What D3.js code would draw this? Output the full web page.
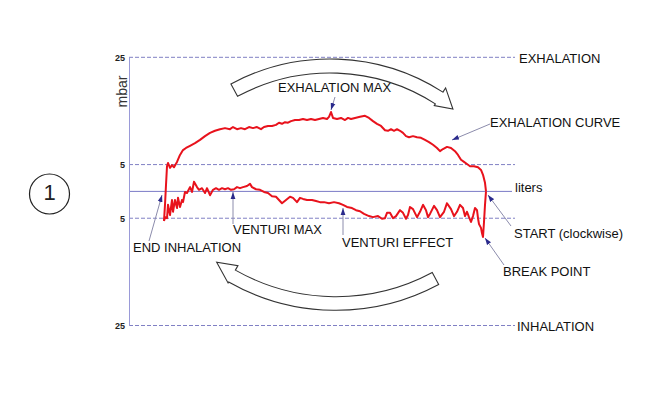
<!DOCTYPE html>
<html><head><meta charset="utf-8">
<script src="https://cdn.jsdelivr.net/npm/d3@7"></script>
<style>body{margin:0;background:#fff}svg{display:block}text{font-family:"Liberation Sans",Arial,Helvetica,sans-serif}</style>
</head><body><svg id="c" width="656" height="408"></svg>
<script>
// ---- data (sample index, pressure in mbar) ----
const exhT = [35,36,37,38,39,41,43,45,48,51,54,57,61,66,71,76,81,86,91,96,101,104,108,112,116,120,124,128,132,135,139,143,147,150,153,156,159,162,166,170,174,178,182,186,190,194,198,200,202,204,208,212,216,219,222,226,231,236,240,244,248,252,256,259,262,265,268,271,274,277,280,284,288,292,296,300,304,308,311,314,318,322,326,329,332,335,338,341,345,349,352,354,356,357];
const exhP = [-5.5,-2.5,1.2,4.7,5.3,4.4,4.9,4.5,5.5,6.8,7.7,8.1,8.5,9.0,9.6,10.3,10.9,11.3,11.6,11.8,11.6,12.0,11.6,11.8,11.6,12.0,11.8,12.0,11.6,12.0,12.2,12.2,12.4,12.8,12.6,12.9,12.8,13.1,13.3,13.3,13.5,13.3,13.5,13.3,13.5,13.7,13.5,13.9,14.8,13.7,13.5,13.7,13.3,13.7,13.5,13.7,13.9,14.1,13.7,13.1,12.6,12.2,11.4,11.3,11.6,11.3,11.6,11.3,10.9,10.3,10.1,10.3,10.1,10.0,9.6,9.2,8.7,8.1,7.5,7.9,8.3,8.1,7.5,6.8,5.9,5.5,5.1,4.7,4.7,4.5,4.0,3.1,1.6,0];
const venT = [357,356,355,354,353,352,350,349,348,346,344,342,340,338,336,334,331,328,325,322,318,315,311,308,305,301,299,297,294,291,288,284,281,279,277,274,271,267,264,261,258,256,253,249,244,240,235,231,227,223,218,214,210,205,200,195,191,187,183,178,174,171,168,164,161,157,153,150,147,143,139,135,131,127,123,121,118,114,111,108,105,102,99,96,93,90,87,84,81,78,76,73,70,68,65,63,61,58,56,54,53,51,49,48,46,44,43,41,39,38,36,35];
const venP = [0,-2.5,-5.7,-8.5,-7.8,-6.8,-6.1,-5.0,-3.5,-3.1,-4.6,-5.7,-4.8,-3.8,-4.6,-3.1,-2.5,-3.8,-4.6,-3.3,-2.2,-3.8,-4.8,-3.5,-2.7,-4.2,-4.8,-3.5,-2.5,-3.8,-4.8,-3.3,-2.9,-4.4,-5.1,-4.0,-3.5,-4.6,-5.0,-4.0,-4.0,-5.0,-5.1,-4.6,-4.8,-4.6,-4.2,-3.7,-3.5,-3.1,-2.9,-2.5,-2.2,-2.0,-2.2,-2.0,-2.0,-1.8,-1.6,-1.6,-1.4,-1.2,-2.0,-1.2,-1.0,-1.6,-2.2,-1.6,-1.0,-0.9,-0.3,-0.1,0.3,0.4,0.8,1.4,1.0,0.8,0.6,0.8,0.4,0.3,0.6,0.4,0.6,0.3,0.6,0.3,-0.7,0.6,-0.3,0.6,0.3,0.8,1.8,-0.1,0.8,-0.3,-0.1,-2.0,-1.6,-2.9,-1.2,-3.1,-1.6,-3.8,-1.6,-4.4,-2.5,-5.0,-4.8,-5.5];
const yTicks = [25, 5, -5, -25];
const levelLabels = ["EXHALATION", "liters", "INHALATION"];
const levelValues = [25, 0, -25];
const noteLabels = ["EXHALATION MAX","EXHALATION CURVE","VENTURI MAX","VENTURI EFFECT","END INHALATION","START (clockwise)","BREAK POINT"];

// ---- layout ----
const svg = d3.select("#c");
const x = d3.scaleLinear().domain([0, 386]).range([129, 515]);
const y = d3.scaleLinear().domain([-25, 25]).range([325.5, 57.3]);

const noteLayout = [
  {tx:278, ty:92,  a:[335,97],  b:[331,110]},
  {tx:490, ty:127, a:[490,124], b:[452,140]},
  {tx:233, ty:234, a:[233,224], b:[233,192]},
  {tx:342, ty:247, a:[343,235], b:[343,208]},
  {tx:133, ty:252, a:[149,241], b:[162,195]},
  {tx:514, ty:238, a:[511,226], b:[488,195]},
  {tx:503, ty:276, a:[504,265], b:[485,238]}
];

const defs = svg.append("defs");
defs.append("marker").attr("id","ah").attr("markerUnits","userSpaceOnUse")
  .attr("markerWidth",7).attr("markerHeight",6).attr("refX",7).attr("refY",3).attr("orient","auto")
  .append("path").attr("d","M0,0.6L7,3L0,5.4Z").attr("fill","#2a2a8c");

// grid lines
svg.append("g").selectAll("line").data(yTicks).join("line")
  .attr("x1", x(0)).attr("x2", x(386)).attr("y1", d => y(d)).attr("y2", d => y(d))
  .attr("stroke", "#8080c4").attr("stroke-width", 1).attr("stroke-dasharray", "4,2");
svg.append("line").attr("x1", x(0)).attr("x2", x(383)).attr("y1", y(0)).attr("y2", y(0))
  .attr("stroke", "#7a7ac6").attr("stroke-width", 1);

// axis
const yAxis = d3.axisLeft(y).tickValues(yTicks).tickSize(0).tickPadding(4).tickFormat(d => Math.abs(d));
const ga = svg.append("g").attr("transform", `translate(${x(0)},0)`).call(yAxis);
ga.select(".domain").attr("stroke", "#9a9ad8");
ga.selectAll("text").attr("font-size", 9).attr("font-weight", "bold").attr("fill", "#222")
  .style("font-family", '"Liberation Sans",Arial,sans-serif');
svg.append("text").attr("transform", `translate(127,91.5) rotate(-90)`).attr("text-anchor","middle")
  .attr("font-size", 14).attr("fill", "#333").text("mbar");

// level labels
const levelDx = [4, 0, 2], levelDy = [6, 1, 5];
svg.append("g").selectAll("text").data(levelLabels).join("text")
  .attr("x", (d,i) => x(386) + levelDx[i]).attr("y", (d,i) => y(levelValues[i]) + levelDy[i])
  .attr("font-size", 13).attr("fill", "#111").text(d => d);

// big curved arrows
function bigArrow(cx, cy, R, hw, a0, a1, aTip, rTip, hOut, hIn) {
  const r = Math.PI/180;
  const pt = (rad, ang) => [cx + rad*Math.cos(ang*r), cy + rad*Math.sin(ang*r)];
  const p = d3.path();
  const ccw = a1 < a0;
  const s = pt(R+hw, a0); p.moveTo(s[0], s[1]);
  p.arc(cx, cy, R+hw, a0*r, a1*r, ccw);
  const ho = pt(R+hOut, a1), t = pt(rTip, aTip), hi = pt(R-hIn, a1), e = pt(R-hw, a1);
  p.lineTo(ho[0], ho[1]); p.lineTo(t[0], t[1]); p.lineTo(hi[0], hi[1]); p.lineTo(e[0], e[1]);
  p.arc(cx, cy, R-hw, a1*r, a0*r, !ccw);
  p.closePath();
  return p.toString();
}
svg.append("path").attr("d", bigArrow(330, 268, 202, 7, -118.3, -57.3, -52.3, 201, 12, 9))
  .attr("fill", "#fff").attr("stroke", "#333").attr("stroke-width", 1.1).attr("stroke-linejoin","miter");
svg.append("path").attr("d", bigArrow(336, 93, 210.5, 6.8, 61.8, 119.6, 125.2, 207, 8, 12))
  .attr("fill", "#fff").attr("stroke", "#333").attr("stroke-width", 1.1).attr("stroke-linejoin","miter");

// curves
const line = d3.line().x(d => x(d[0])).y(d => y(d[1]));
const exh = exhT.map((t,i) => [t, exhP[i]]);
const ven = venT.map((t,i) => [t, venP[i]]);
svg.append("path").attr("d", line(exh)).attr("fill","none").attr("stroke","#e8121c").attr("stroke-width",2).attr("stroke-linejoin","round");
svg.append("path").attr("d", line(ven)).attr("fill","none").attr("stroke","#e8121c").attr("stroke-width",2).attr("stroke-linejoin","round");

// annotations
const ng = svg.append("g");
noteLabels.forEach((lab, i) => {
  const L = noteLayout[i];
  ng.append("line").attr("x1", L.a[0]).attr("y1", L.a[1]).attr("x2", L.b[0]).attr("y2", L.b[1])
    .attr("stroke", "#8c8cac").attr("stroke-width", 1).attr("marker-end", "url(#ah)");
  ng.append("text").attr("x", L.tx).attr("y", L.ty).attr("font-size", 13).attr("fill", "#111").text(lab);
});

// figure number
svg.append("circle").attr("cx", 49.5).attr("cy", 194).attr("r", 20).attr("fill","none").attr("stroke","#222").attr("stroke-width",1.2);
svg.append("text").attr("x", 49.5).attr("y", 200).attr("text-anchor","middle").attr("font-size", 22).attr("fill","#222").text("1");
</script></body></html>
